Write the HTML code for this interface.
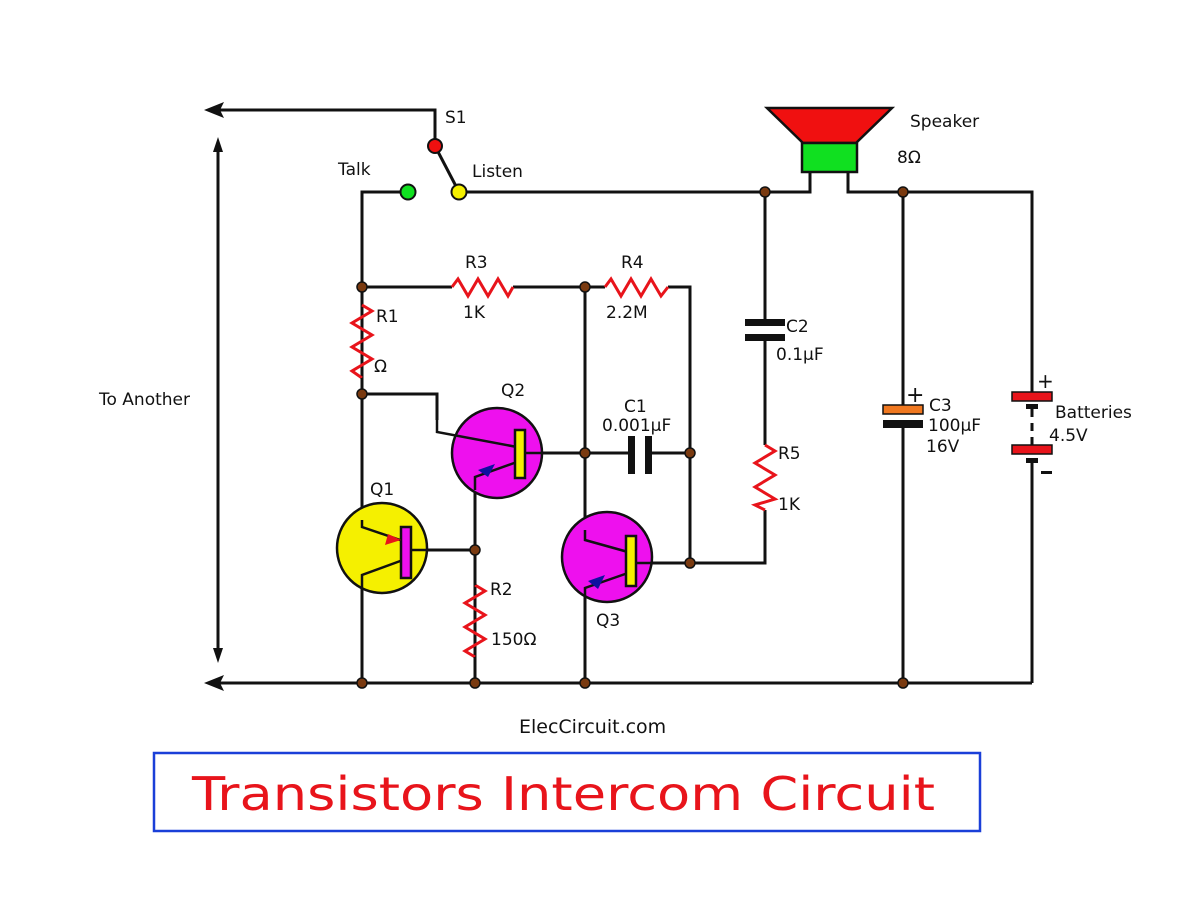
<!DOCTYPE html>
<html><head><meta charset="utf-8"><style>
html,body{margin:0;padding:0;background:#fff;}
svg{display:block;}
text{font-family:"DejaVu Sans","Liberation Sans",sans-serif;font-size:17px;fill:#111;}
</style></head><body>
<svg width="1200" height="908" viewBox="0 0 1200 908" xmlns="http://www.w3.org/2000/svg">
<g stroke="#111" stroke-width="3" fill="none">
<polyline points="218,110 435,110 435,146"/>
<line x1="435" y1="146" x2="459" y2="192"/>
<polyline points="400,192 362,192 362,683"/>
<polyline points="459,192 810,192 810,172"/>
<polyline points="848,172 848,192 1032,192 1032,396"/>
<line x1="1032" y1="460" x2="1032" y2="683"/>
<line x1="218" y1="683" x2="1032" y2="683"/>
<line x1="218" y1="148" x2="218" y2="654"/>
<polyline points="362,287 452,287"/>
<polyline points="513,287 605,287"/>
<polyline points="668,287 690,287 690,563"/>
<line x1="362" y1="287" x2="362" y2="305"/>
<polyline points="362,394 437,394 437,420"/>
<line x1="520" y1="453" x2="631" y2="453"/>
<line x1="648" y1="453" x2="690" y2="453"/>
<line x1="585" y1="287" x2="585" y2="683"/>
<line x1="475" y1="490" x2="475" y2="683"/>
<line x1="427" y1="550" x2="475" y2="550"/>
<polyline points="631,563 765,563 765,510"/>
<line x1="765" y1="192" x2="765" y2="445"/>
<line x1="903" y1="192" x2="903" y2="683"/>
</g>
<polygon points="204,110 224,102 220,110 224,118" fill="#111"/>
<polygon points="204,683 224,675 220,683 224,691" fill="#111"/>
<polygon points="218,137 213,152 223,152" fill="#111"/>
<polygon points="218,663 213,648 223,648" fill="#111"/>
<g stroke="#e8141b" stroke-width="3" fill="none" stroke-linejoin="miter">
<polyline points="452,287 458,279 468,296 478,279 488,296 498,279 508,296 513,287"/>
<polyline points="605,287 611,279 621,296 631,279 641,296 651,279 661,296 668,287"/>
<polyline points="362,305 372,311 352,323 372,335 352,347 372,359 352,371 362,378"/>
<polyline points="475,585 485,591 465,603 485,615 465,627 485,639 465,651 475,657"/>
<polyline points="765,445 775,451 755,463 775,475 755,487 775,499 755,505 765,510"/>
</g>
<g stroke="#111" stroke-width="3"><line x1="362" y1="378" x2="362" y2="394"/><line x1="475" y1="550" x2="475" y2="585"/><line x1="475" y1="657" x2="475" y2="683"/></g>
<rect x="628" y="436" width="7" height="38" fill="#111"/>
<rect x="645" y="436" width="7" height="38" fill="#111"/>
<rect x="755" y="322" width="20" height="16" fill="#fff"/>
<rect x="745" y="319" width="40" height="7" fill="#111"/>
<rect x="745" y="334" width="40" height="7" fill="#111"/>
<rect x="895" y="412" width="16" height="9" fill="#fff"/>
<rect x="883" y="405" width="40" height="9" fill="#f07820" stroke="#111" stroke-width="1.5"/>
<rect x="883" y="420" width="40" height="8" fill="#111"/>
<text x="906" y="402" style="font-size:22px">+</text>
<rect x="1012" y="392" width="40" height="9" fill="#e8141b" stroke="#111" stroke-width="1.5"/>
<rect x="1026" y="404" width="12" height="5" fill="#111"/>
<line x1="1032" y1="409" x2="1032" y2="445" stroke="#111" stroke-width="3" stroke-dasharray="8,6"/>
<rect x="1012" y="445" width="40" height="9" fill="#e8141b" stroke="#111" stroke-width="1.5"/>
<rect x="1026" y="458" width="12" height="5" fill="#111"/>
<text x="1037" y="388" style="font-size:20px">+</text>
<rect x="1041" y="471" width="11" height="3" fill="#111"/>
<polygon points="767,108 892,108 856,143 803,143" fill="#f01010" stroke="#111" stroke-width="2.5"/>
<rect x="802" y="143" width="55" height="29" fill="#10e020" stroke="#111" stroke-width="2.5"/>
<g stroke="#111" stroke-width="2.5">
<circle cx="497" cy="453" r="45" fill="#ee10ee"/>
<circle cx="382" cy="548" r="45" fill="#f5f000"/>
<circle cx="607" cy="557" r="45" fill="#ee10ee"/>
<polyline points="437,420 437,432 517,447" fill="none"/>
<polyline points="517,462 475,477 475,490" fill="none"/>
<polyline points="362,520 362,527 403,541" fill="none"/>
<polyline points="403,560 362,575 362,683" fill="none"/>
<polyline points="585,530 585,540 628,552" fill="none"/>
<polyline points="628,573 585,588 585,600" fill="none"/>
<rect x="515" y="430" width="10" height="48" fill="#f5f000"/>
<rect x="401" y="527" width="10" height="51" fill="#ee10ee"/>
<rect x="626" y="536" width="10" height="50" fill="#f5f000"/>
<line x1="525" y1="453" x2="542" y2="453"/>
<line x1="411" y1="550" x2="427" y2="550"/>
<line x1="636" y1="563" x2="652" y2="563"/>
</g>
<polygon points="478,470 495,464 488,477" fill="#1010a0"/>
<polygon points="388,534 401,540 385,545" fill="#e8141b"/>
<polygon points="588,581 605,575 598,589" fill="#1010a0"/>
<g stroke="#111" stroke-width="2">
<circle cx="435" cy="146" r="7" fill="#f01010"/>
<circle cx="408" cy="192" r="7.5" fill="#10e020"/>
<circle cx="459" cy="192" r="7.5" fill="#f5f000"/>
</g>
<g fill="#7a3a10" stroke="#111" stroke-width="1.5">
<circle cx="362" cy="287" r="5"/><circle cx="585" cy="287" r="5"/>
<circle cx="362" cy="394" r="5"/><circle cx="585" cy="453" r="5"/>
<circle cx="690" cy="453" r="5"/><circle cx="475" cy="550" r="5"/>
<circle cx="690" cy="563" r="5"/><circle cx="765" cy="192" r="5"/>
<circle cx="903" cy="192" r="5"/>
<circle cx="362" cy="683" r="5"/><circle cx="475" cy="683" r="5"/>
<circle cx="585" cy="683" r="5"/><circle cx="903" cy="683" r="5"/>
</g>
<text x="445" y="123">S1</text>
<text x="338" y="175">Talk</text>
<text x="472" y="177">Listen</text>
<text x="910" y="127">Speaker</text>
<text x="897" y="163">8Ω</text>
<text x="465" y="268">R3</text>
<text x="463" y="318">1K</text>
<text x="621" y="268">R4</text>
<text x="606" y="318">2.2M</text>
<text x="376" y="322">R1</text>
<text x="374" y="372">Ω</text>
<text x="786" y="332">C2</text>
<text x="776" y="360">0.1μF</text>
<text x="99" y="405">To Another</text>
<text x="501" y="396">Q2</text>
<text x="624" y="412">C1</text>
<text x="602" y="431">0.001μF</text>
<text x="370" y="495">Q1</text>
<text x="778" y="459">R5</text>
<text x="778" y="510">1K</text>
<text x="929" y="411">C3</text>
<text x="928" y="431">100μF</text>
<text x="926" y="452">16V</text>
<text x="1055" y="418">Batteries</text>
<text x="1049" y="441">4.5V</text>
<text x="490" y="595">R2</text>
<text x="491" y="645">150Ω</text>
<text x="596" y="626">Q3</text>
<text x="519" y="733" style="font-size:19px">ElecCircuit.com</text>
<rect x="154" y="753" width="826" height="78" fill="none" stroke="#1a3fd8" stroke-width="2.5"/>
<text x="192" y="810" style="font-size:46px;fill:#e8141b" textLength="743" lengthAdjust="spacingAndGlyphs">Transistors Intercom Circuit</text>
</svg>
</body></html>
